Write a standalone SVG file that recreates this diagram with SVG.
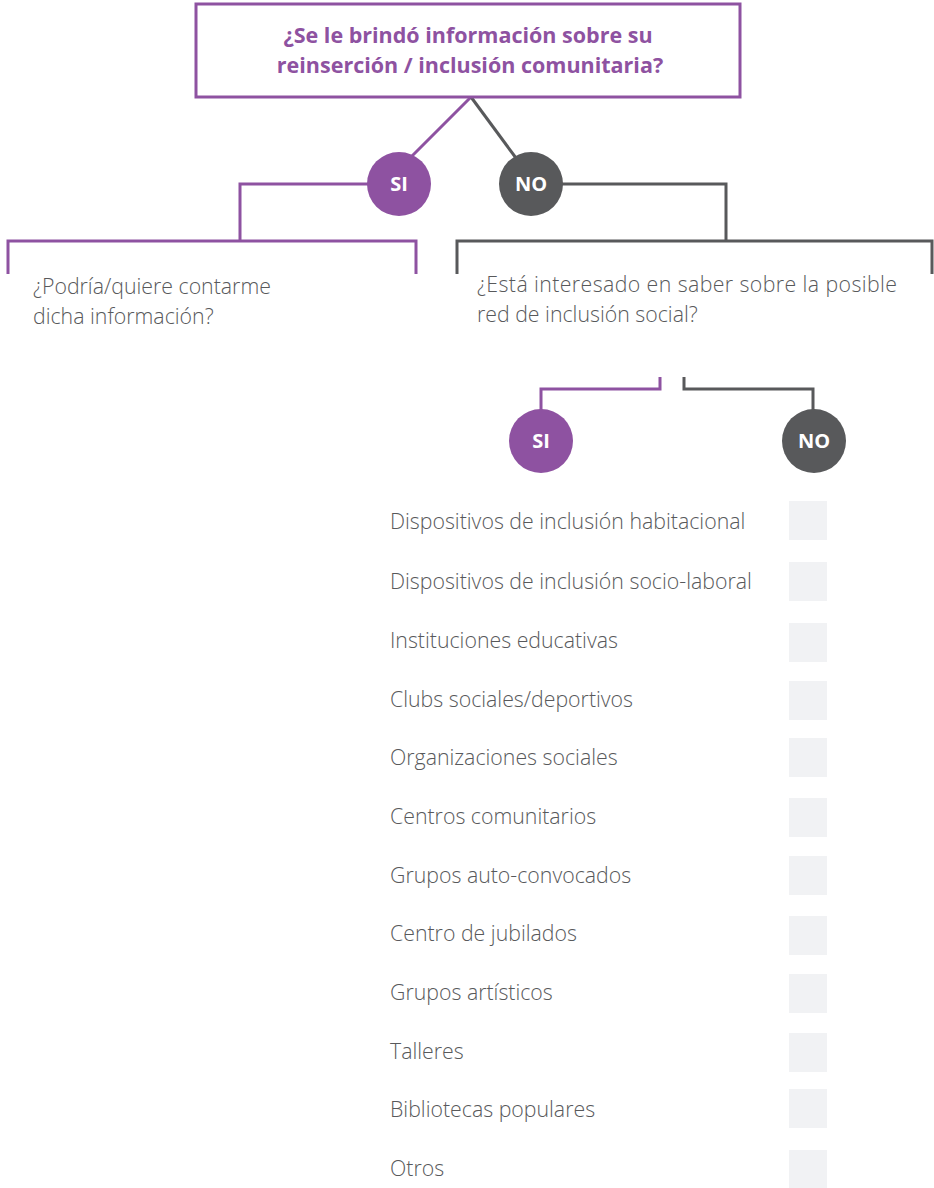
<svg xmlns="http://www.w3.org/2000/svg" width="934" height="1188" viewBox="0 0 934 1188">
  <style>
    .title { font-family: "Open Sans", "Liberation Sans", sans-serif; font-weight: 700; font-size: 21.5px; fill: #8e52a1; text-anchor: middle; }
    .body { font-family: "Open Sans", "Liberation Sans", sans-serif; font-weight: 300; font-size: 21.3px; fill: #58595b; }
    .badge { font-family: "Open Sans", "Liberation Sans", sans-serif; font-weight: 700; font-size: 20px; fill: #ffffff; text-anchor: middle; }
    .p-line { fill: none; stroke: #8e52a1; stroke-width: 3; }
    .g-line { fill: none; stroke: #58595b; stroke-width: 3; }
    .p-dot { fill: #8e52a1; }
    .g-dot { fill: #58595b; }
    .check { fill: #f1f2f4; }
  </style>

  <!-- connectors -->
  <g id="connectors">
    <line class="p-line" x1="471" y1="97" x2="412" y2="156"/>
    <line class="g-line" x1="471" y1="97" x2="516" y2="158"/>
    <polyline class="p-line" points="368,184 240,184 240,241"/>
    <polyline class="p-line" points="8,274 8,241 416,241 416,274"/>
    <polyline class="g-line" points="562,184 726,184 726,241"/>
    <polyline class="g-line" points="457,274 457,241 932,241 932,274"/>
    <polyline class="p-line" points="660,377 660,389 541,389 541,410"/>
    <polyline class="g-line" points="684,377 684,389 813,389 813,410"/>
  </g>

  <!-- question box -->
  <g id="q-main">
    <rect x="196" y="4" width="544" height="93" fill="#ffffff" stroke="#8e52a1" stroke-width="3"/>
    <text class="title" x="468" y="43">¿Se le brindó información sobre su</text>
    <text class="title" x="470" y="73">reinserción / inclusión comunitaria?</text>
  </g>

  <g id="si-1">
    <circle class="p-dot" cx="399" cy="184" r="32"/>
    <text class="badge" x="399" y="191">SI</text>
  </g>
  <g id="no-1">
    <circle class="g-dot" cx="531" cy="184" r="32"/>
    <text class="badge" x="531" y="191">NO</text>
  </g>

  <g id="q-contar">
    <text class="body" x="33" y="294">¿Podría/quiere contarme</text>
    <text class="body" x="33" y="324">dicha información?</text>
  </g>

  <g id="q-red">
    <text class="body" x="477" y="292" textLength="420" lengthAdjust="spacing">¿Está interesado en saber sobre la posible</text>
    <text class="body" x="477" y="322">red de inclusión social?</text>
  </g>

  <g id="si-2">
    <circle class="p-dot" cx="541" cy="441" r="32"/>
    <text class="badge" x="541" y="448">SI</text>
  </g>
  <g id="no-2">
    <circle class="g-dot" cx="814" cy="441" r="32"/>
    <text class="badge" x="814" y="448">NO</text>
  </g>

  <!-- options list -->
  <g id="options">
    <g id="opt-1"><text class="body" x="390" y="529">Dispositivos de inclusión habitacional</text><rect class="check" x="789" y="501" width="38" height="39"/></g>
    <g id="opt-2"><text class="body" x="390" y="589">Dispositivos de inclusión socio-laboral</text><rect class="check" x="789" y="562" width="38" height="39"/></g>
    <g id="opt-3"><text class="body" x="390" y="648">Instituciones educativas</text><rect class="check" x="789" y="623" width="38" height="39"/></g>
    <g id="opt-4"><text class="body" x="390" y="707">Clubs sociales/deportivos</text><rect class="check" x="789" y="681" width="38" height="39"/></g>
    <g id="opt-5"><text class="body" x="390" y="765">Organizaciones sociales</text><rect class="check" x="789" y="738" width="38" height="39"/></g>
    <g id="opt-6"><text class="body" x="390" y="824">Centros comunitarios</text><rect class="check" x="789" y="798" width="38" height="39"/></g>
    <g id="opt-7"><text class="body" x="390" y="883">Grupos auto-convocados</text><rect class="check" x="789" y="856" width="38" height="39"/></g>
    <g id="opt-8"><text class="body" x="390" y="941">Centro de jubilados</text><rect class="check" x="789" y="916" width="38" height="39"/></g>
    <g id="opt-9"><text class="body" x="390" y="1000">Grupos artísticos</text><rect class="check" x="789" y="974" width="38" height="39"/></g>
    <g id="opt-10"><text class="body" x="390" y="1059">Talleres</text><rect class="check" x="789" y="1033" width="38" height="39"/></g>
    <g id="opt-11"><text class="body" x="390" y="1117">Bibliotecas populares</text><rect class="check" x="789" y="1089" width="38" height="39"/></g>
    <g id="opt-12"><text class="body" x="390" y="1176">Otros</text><rect class="check" x="789" y="1150" width="38" height="39"/></g>
  </g>
</svg>
